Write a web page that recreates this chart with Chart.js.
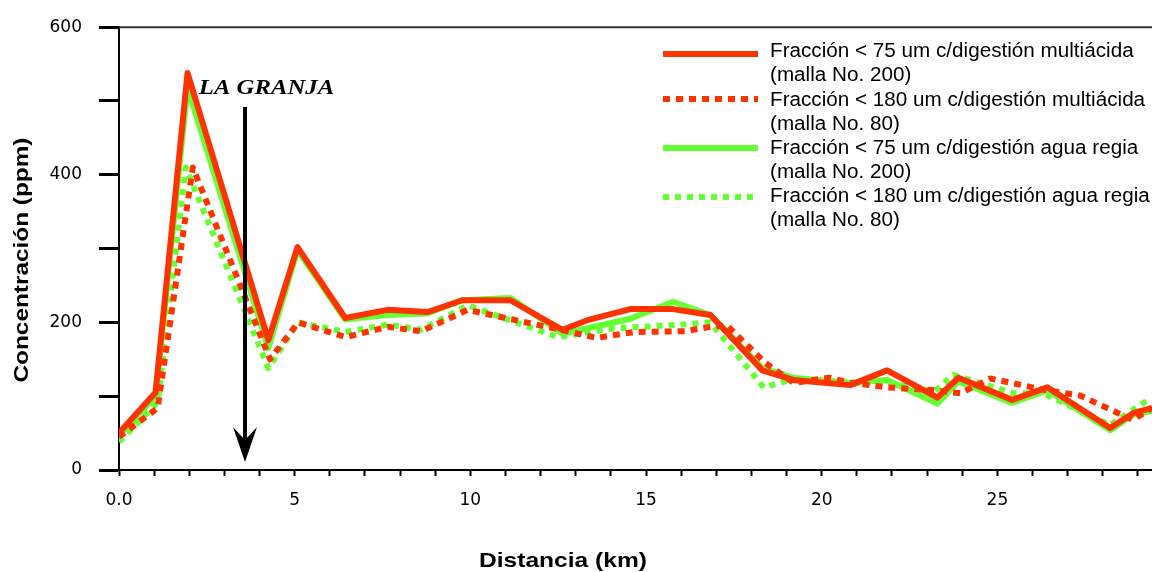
<!DOCTYPE html>
<html><head><meta charset="utf-8">
<script src="https://cdn.jsdelivr.net/npm/chart.js@4.4.1/dist/chart.umd.min.js"></script>
<style>html,body{margin:0;padding:0;background:#fff;}#wrap{width:1152px;height:572px;}</style>
</head><body><div id="wrap"><canvas id="c" width="1152" height="572"></canvas></div>
<script>
// ---- data (distance km, concentration ppm) ----
const seriesNames = [
  ['Fracción < 75 um c/digestión multiácida', '(malla No. 200)'],
  ['Fracción < 180 um c/digestión multiácida', '(malla No. 80)'],
  ['Fracción < 75 um c/digestión agua regia', '(malla No. 200)'],
  ['Fracción < 180 um c/digestión agua regia', '(malla No. 80)']
];
const xTitle = 'Distancia (km)';
const yTitle = 'Concentración (ppm)';
const annotationText = 'LA GRANJA';

const multi75X = [0.0, 1.04, 1.95, 4.25, 5.08, 6.44, 7.64, 8.78, 9.77, 11.14, 12.62, 13.33, 14.55, 15.77, 16.83, 18.31, 19.19, 20.81, 21.86, 23.29, 23.89, 25.42, 26.42, 28.21, 28.86, 29.4];
const multi75Y = [50, 105, 538, 176, 302, 206, 217, 214, 230, 230, 190, 203, 218, 218, 210, 135, 122, 115, 135, 98, 125, 95, 112, 57, 77, 84];

const multi180X = [0.0, 1.1, 2.1, 4.3, 5.1, 6.45, 7.65, 8.6, 9.92, 12.56, 13.6, 14.65, 16.1, 16.83, 17.3, 18.4, 19.2, 20.2, 20.85, 21.86, 23.2, 23.95, 24.8, 26.4, 27.35, 28.3, 28.85, 29.4];
const multi180Y = [45, 84, 410, 150, 200, 180, 194, 188, 217, 190, 179, 187, 188, 194, 196, 145, 118, 125, 118, 112, 108, 104, 124, 108, 101, 80, 68, 84];

const regia75X = [0.0, 1.04, 1.95, 4.25, 5.08, 6.44, 7.64, 8.78, 9.77, 11.14, 12.62, 13.33, 14.55, 15.77, 16.83, 18.31, 19.19, 20.81, 21.86, 23.29, 23.89, 25.42, 26.42, 28.21, 28.86, 29.4];
const regia75Y = [47, 100, 518, 165, 298, 204, 210, 212, 230, 233, 185, 192, 205, 228, 210, 138, 125, 118, 122, 90, 120, 91, 108, 54, 75, 80];

const regia180X = [0.0, 1.1, 1.9, 4.25, 5.1, 6.45, 7.65, 8.6, 9.92, 12.5, 14.1, 15.7, 16.83, 18.35, 19.1, 20.8, 21.86, 23.2, 23.75, 25.45, 26.3, 28.2, 29.3];
const regia180Y = [38, 92, 410, 138, 200, 187, 197, 190, 223, 180, 192, 196, 200, 112, 122, 119, 119, 106, 129, 104, 104, 61, 95];

const xTickLabels = {0: '0.0', 5: '5', 10: '10', 15: '15', 20: '20', 25: '25'};
const yTickLabels = {0: '0', 200: '200', 400: '400', 600: '600'};

// ---- styling ----
const RED = '#FF3300';
const GREEN = '#66FF33';
const FONT = '"Liberation Sans", Arial, sans-serif';
const TICKFONT = '"DejaVu Sans", "Liberation Sans", sans-serif';

function pts(xs, ys) { return xs.map((x, i) => ({x: x, y: ys[i]})); }

// annotation placement (in data units)
const arrowAt = {x: 3.6, top: 492, tip: 11};
const labelAt = {x: 2.27, y: 510};

// draw text stretched horizontally by sx
function drawText(ctx, text, x, y, font, sx, align, rot) {
  ctx.save();
  ctx.translate(x, y);
  if (rot) ctx.rotate(rot);
  ctx.scale(sx, 1);
  ctx.font = font;
  ctx.textAlign = align;
  ctx.fillText(text, 0, 0);
  ctx.restore();
}

const decorPlugin = {
  id: 'decor',
  afterDraw(chart) {
    const ctx = chart.ctx;
    const a = chart.chartArea;
    const xs = chart.scales.x, ys = chart.scales.y;
    ctx.save();
    // top frame line
    ctx.strokeStyle = '#333';
    ctx.lineWidth = 2;
    ctx.beginPath();
    ctx.moveTo(a.left, a.top);
    ctx.lineTo(a.right, a.top);
    ctx.stroke();

    // arrow
    const ax = Math.round(xs.getPixelForValue(arrowAt.x));
    const at = ys.getPixelForValue(arrowAt.top);
    const ap = ys.getPixelForValue(arrowAt.tip);
    ctx.strokeStyle = '#000';
    ctx.lineWidth = 4;
    ctx.beginPath();
    ctx.moveTo(ax, at);
    ctx.lineTo(ax, ap - 20);
    ctx.stroke();
    ctx.fillStyle = '#000';
    ctx.beginPath();
    ctx.moveTo(ax, ap);
    ctx.lineTo(ax - 12, ap - 35);
    ctx.lineTo(ax, ap - 22);
    ctx.lineTo(ax + 12, ap - 35);
    ctx.closePath();
    ctx.fill();

    // label
    ctx.textBaseline = 'alphabetic';
    drawText(ctx, annotationText, xs.getPixelForValue(labelAt.x), ys.getPixelForValue(labelAt.y),
      'italic bold 22px "Liberation Serif", "Times New Roman", serif', 1.125, 'left');

    // axis titles
    ctx.textBaseline = 'middle';
    drawText(ctx, xTitle, 563, 561, 'bold 21px ' + FONT, 1.17, 'center');
    drawText(ctx, yTitle, 22, 260, 'bold 21px ' + FONT, 1.16, 'center', -Math.PI / 2);

    // legend
    const rows = [54, 99, 148, 197];
    chart.data.datasets.forEach((ds) => {
      const i = ds.legendIndex;
      const y = rows[i];
      ctx.strokeStyle = ds.borderColor;
      ctx.lineWidth = 6;
      ctx.lineCap = 'butt';
      ctx.setLineDash(ds.borderDash || []);
      ctx.beginPath();
      ctx.moveTo(663, y);
      ctx.lineTo(758, y);
      ctx.stroke();
      ctx.setLineDash([]);
      ctx.fillStyle = '#000';
      ctx.textBaseline = 'middle';
      drawText(ctx, ds.label[0], 770, 52 + i * 48.3, '19.5px ' + FONT, 1.06, 'left');
      drawText(ctx, ds.label[1], 770, 52 + i * 48.3 + 24, '19.5px ' + FONT, 1.06, 'left');
    });
    ctx.restore();
  }
};

const commonLine = {fill: false, pointRadius: 0, tension: 0, borderWidth: 6, borderJoinStyle: 'round'};

new Chart(document.getElementById('c'), {
  type: 'line',
  data: {
    datasets: [
      Object.assign({label: seriesNames[2], legendIndex: 2, data: pts(regia75X, regia75Y), borderColor: GREEN, order: 4}, commonLine),
      Object.assign({label: seriesNames[3], legendIndex: 3, data: pts(regia180X, regia180Y), borderColor: GREEN, borderDash: [6, 6], borderCapStyle: 'butt', order: 3}, commonLine),
      Object.assign({label: seriesNames[1], legendIndex: 1, data: pts(multi180X, multi180Y), borderColor: RED, borderDash: [7, 6], borderCapStyle: 'butt', order: 2}, commonLine),
      Object.assign({label: seriesNames[0], legendIndex: 0, data: pts(multi75X, multi75Y), borderColor: RED, order: 1}, commonLine)
    ]
  },
  options: {
    responsive: false,
    animation: false,
    devicePixelRatio: 1,
    layout: {padding: {top: 27, right: 0, left: 0, bottom: 0}},
    plugins: {legend: {display: false}, tooltip: {enabled: false}, title: {display: false}},
    scales: {
      x: {
        type: 'linear', min: 0, max: 29.4,
        afterFit(s) { s.height = 102; },
        afterBuildTicks(s) { const t = []; for (let v = 0; v <= 29; v++) t.push({value: v}); s.ticks = t; },
        border: {color: '#000', width: 2},
        grid: {drawOnChartArea: false, drawTicks: true, tickLength: 6, tickWidth: 2, tickColor: '#000'},
        ticks: {
          autoSkip: false, maxRotation: 0, padding: 14, color: '#000',
          font: {family: TICKFONT, size: 17},
          callback: (v) => (xTickLabels[v] !== undefined ? xTickLabels[v] : '')
        }
      },
      y: {
        type: 'linear', min: 0, max: 600,
        afterFit(s) { s.width = 119; },
        afterBuildTicks(s) { const t = []; for (let v = 0; v <= 600; v += 100) t.push({value: v}); s.ticks = t; },
        border: {color: '#000', width: 2},
        grid: {drawOnChartArea: false, drawTicks: true, tickLength: 20, tickWidth: 3, tickColor: '#000'},
        ticks: {
          padding: 17, color: '#000',
          font: {family: TICKFONT, size: 17},
          callback: (v) => (yTickLabels[v] !== undefined ? yTickLabels[v] : '')
        }
      }
    }
  },
  plugins: [decorPlugin]
});
</script>
</body></html>
